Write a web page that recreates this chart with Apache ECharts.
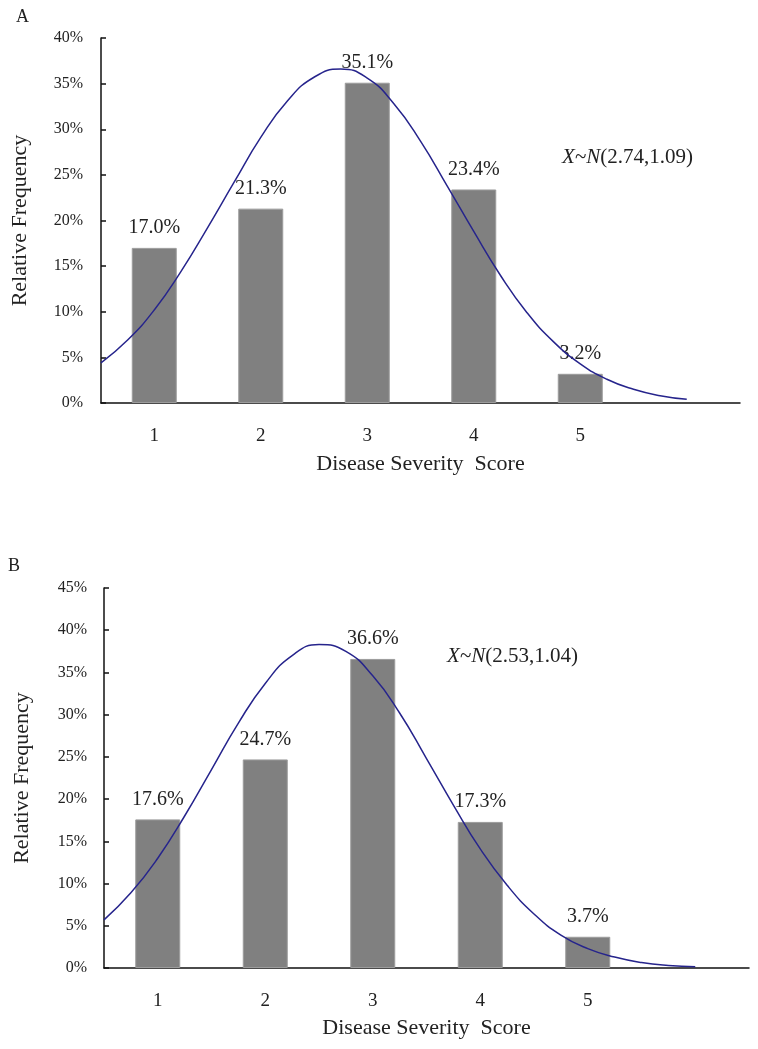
<!DOCTYPE html>
<html>
<head>
<meta charset="utf-8">
<script src="https://cdn.jsdelivr.net/npm/echarts@6/dist/echarts.min.js"></script>
<style>
html,body{margin:0;padding:0;background:#fff;}
#chart{width:758px;height:1049px;}
</style>
</head>
<body>
<div id="chart"></div>
<script>
// ---------- data ----------
const categories = ['1', '2', '3', '4', '5', ''];
const barsA = [17.0, 21.3, 35.1, 23.4, 3.2];
const barsB = [17.6, 24.7, 36.6, 17.3, 3.7];
// curve points: [score position, relative frequency %]
const curveX = [0.5, 0.75, 1.0, 1.25, 1.5, 1.75, 2.0, 2.25, 2.5, 2.75, 3.0, 3.25, 3.5, 3.75, 4.0, 4.25, 4.5, 4.75, 5.0, 5.25, 5.5, 5.75, 6.0];
const curveA = [4.4, 6.9, 10.2, 14.4, 19.2, 24.2, 29.1, 33.1, 35.7, 36.6, 35.6, 32.8, 28.7, 23.8, 18.8, 14.0, 9.9, 6.7, 4.3, 2.6, 1.5, 0.8, 0.4];
const curveB = [5.7, 8.9, 13.0, 18.0, 23.5, 29.0, 33.7, 37.0, 38.3, 37.5, 34.6, 30.2, 24.8, 19.3, 14.1, 9.8, 6.4, 3.9, 2.3, 1.3, 0.65, 0.3, 0.15];
const yTicksA = {min: 0, max: 40, interval: 5};
const yTicksB = {min: 0, max: 45, interval: 5};
const xTitle = 'Disease Severity  Score';
const yTitle = 'Relative Frequency';
const noteA = ['X~N', '(2.74,1.09)'];
const noteB = ['X~N', '(2.53,1.04)'];

// ---------- chart ----------
const FONT = '"Liberation Serif", "Times New Roman", serif';
const chart = echarts.init(document.getElementById('chart'), null, {renderer: 'canvas'});

function catAxis(gi, gap) {
  return {
    type: 'category', gridIndex: gi, data: categories, boundaryGap: true,
    axisLine: {lineStyle: {color: '#111', width: 1.5}},
    axisTick: {inside: true, length: 6, lineStyle: {color: '#111', width: 1.5}, alignWithLabel: false},
    axisLabel: {color: '#222', fontFamily: FONT, fontSize: 19, margin: 24},
    name: xTitle, nameLocation: 'middle', nameGap: gap,
    nameTextStyle: {color: '#222', fontFamily: FONT, fontSize: 22},
    splitLine: {show: false}
  };
}
function valXAxis(gi) {
  return {type: 'value', gridIndex: gi, min: 0.5, max: 6.5, show: false, splitLine: {show: false}};
}
function yAxis(gi, t, margin, gap) {
  return {
    type: 'value', gridIndex: gi, min: t.min, max: t.max, interval: t.interval,
    axisLine: {show: true, lineStyle: {color: '#111', width: 1.5}},
    axisTick: {show: true, inside: true, length: 5, lineStyle: {color: '#111', width: 1.5}},
    axisLabel: {color: '#222', fontFamily: FONT, fontSize: 16, margin: margin, formatter: '{value}%'},
    splitLine: {show: false},
    name: yTitle, nameLocation: 'middle', nameGap: gap, nameRotate: 90,
    nameTextStyle: {color: '#222', fontFamily: FONT, fontSize: 22}
  };
}
function barSeries(xi, yi, vals) {
  return {
    type: 'bar', xAxisIndex: xi, yAxisIndex: yi, data: vals, barWidth: 45,
    itemStyle: {color: '#808080', borderColor: '#9c9c9c', borderWidth: 1},
    label: {show: true, position: 'top', distance: 10, color: '#222', fontFamily: FONT, fontSize: 20,
      formatter: p => p.value.toFixed(1) + '%'},
    z: 2
  };
}
function lineSeries(xi, yi, ys) {
  return {
    type: 'line', xAxisIndex: xi, yAxisIndex: yi,
    data: curveX.map((x, i) => [x, ys[i]]), smooth: true, showSymbol: false,
    lineStyle: {color: '#26248c', width: 1.5}, z: 3
  };
}
function note(parts, left, top) {
  return {
    type: 'text', left: left, top: top,
    style: {
      text: '{i|' + parts[0] + '}{n|' + parts[1] + '}',
      rich: {
        i: {fontFamily: FONT, fontStyle: 'italic', fontSize: 21, fill: '#222'},
        n: {fontFamily: FONT, fontSize: 21, fill: '#222'}
      }
    }
  };
}

chart.setOption({
  backgroundColor: '#fff',
  animation: false,
  grid: [
    {left: 101, top: 38, width: 639, height: 365},
    {left: 104, top: 588, width: 645, height: 380}
  ],
  xAxis: [catAxis(0, 50), valXAxis(0), catAxis(1, 49), valXAxis(1)],
  yAxis: [yAxis(0, yTicksA, 18, 70), yAxis(1, yTicksB, 17, 71)],
  series: [
    barSeries(0, 0, barsA), lineSeries(1, 0, curveA),
    barSeries(2, 1, barsB), lineSeries(3, 1, curveB)
  ],
  graphic: [
    {type: 'text', left: 16, top: 8, style: {text: 'A', fontFamily: FONT, fontSize: 18, fill: '#222'}},
    {type: 'text', left: 8, top: 557, style: {text: 'B', fontFamily: FONT, fontSize: 18, fill: '#222'}},
    note(noteA, 562, 147),
    note(noteB, 447, 646)
  ]
});
</script>
</body>
</html>
